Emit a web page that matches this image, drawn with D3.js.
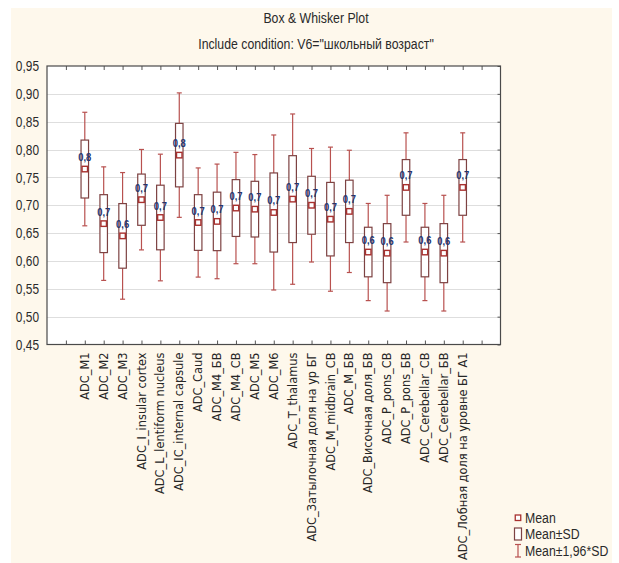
<!DOCTYPE html>
<html>
<head>
<meta charset="utf-8">
<script src="https://cdn.jsdelivr.net/npm/d3@7"></script>
<style>
  html, body { margin: 0; padding: 0; background: #ffffff; }
  svg { display: block; }
</style>
</head>
<body>
<svg id="chart" width="619" height="563"></svg>
<script>
// Variables (one box per ADC measurement)
const categories = [
  "ADC_M1", "ADC_M2", "ADC_M3", "ADC_I_insular cortex", "ADC_L_lentiform nucleus",
  "ADC_IC_internal capsule", "ADC_Caud", "ADC_M4_БВ", "ADC_M4_СВ", "ADC_M5", "ADC_M6",
  "ADC_T_thalamus", "ADC_Затылочная доля на ур БГ", "ADC_M_midbrain_СВ", "ADC_M_БВ",
  "ADC_Височная доля_БВ", "ADC_P_pons_СВ", "ADC_P_pons_БВ", "ADC_Cerebellar_СВ",
  "ADC_Cerebellar_БВ", "ADC_Лобная доля на уровне БГ А1"
];
// Mean of each variable
const means = [
  0.765, 0.667, 0.645, 0.710, 0.678,
  0.790, 0.669, 0.671, 0.695, 0.693, 0.687,
  0.711, 0.700, 0.675, 0.689,
  0.616, 0.614, 0.732, 0.616,
  0.614, 0.732
];
// Standard deviation of each variable
const sds = [
  0.052, 0.052, 0.058, 0.046, 0.058,
  0.057, 0.050, 0.0525, 0.051, 0.050, 0.071,
  0.078, 0.052, 0.066, 0.056,
  0.0445, 0.053, 0.050, 0.0445,
  0.053, 0.050
];
const yTicks = [0.45, 0.50, 0.55, 0.60, 0.65, 0.70, 0.75, 0.80, 0.85, 0.90, 0.95];
const whiskerFactor = 1.96;
const titleText = "Box & Whisker Plot";
const subtitleText = "Include condition: V6=\"школьный возраст\"";
const legendLabels = ["Mean", "Mean±SD", "Mean±1,96*SD"];

const svg = d3.select("#chart");
const W = 619, H = 563;
const plot = { left: 47, right: 500.5, top: 66, bottom: 344.5 };
const SANS = "'Liberation Sans', Arial, sans-serif";
const NARROW = 0.82; // horizontal squeeze giving a narrow face

const fmtTick = v => d3.format(".2f")(v).replace(".", ",");
const fmtLabel = v => d3.format(".1f")(v).replace(".", ",");

// Narrow text placed at (px, py)
function narrowText(parent, px, py, txt, size, anchor, color, weight) {
  return parent.append("text")
    .attr("transform", `translate(${px},${py}) scale(${NARROW},1)`)
    .attr("text-anchor", anchor)
    .attr("font-family", SANS)
    .attr("font-size", size)
    .attr("font-weight", weight || "normal")
    .attr("fill", color)
    .text(txt);
}

// Page background
svg.append("rect").attr("width", W).attr("height", H).attr("fill", "#ffffff");
svg.append("rect").attr("x", 11).attr("y", 8).attr("width", W - 18).attr("height", H - 8)
  .attr("fill", "#fef8ec");

// Scales: categories sit at 1..n, with one empty slot plus a frame margin on each side
const x = d3.scaleLinear().domain([-1, categories.length + 2]).range([plot.left, plot.right]);
const y = d3.scaleLinear().domain([0.45, 0.95]).range([plot.bottom, plot.top]);

// Plot area
svg.append("rect")
  .attr("x", plot.left).attr("y", plot.top)
  .attr("width", plot.right - plot.left).attr("height", plot.bottom - plot.top)
  .attr("fill", "#ffffff");

// Horizontal grid
svg.append("g").selectAll("line")
  .data(yTicks.slice(1, -1))
  .join("line")
  .attr("x1", plot.left).attr("x2", plot.right)
  .attr("y1", d => Math.round(y(d)) + 0.5).attr("y2", d => Math.round(y(d)) + 0.5)
  .attr("stroke", "#dedede").attr("stroke-width", 1);

// Left axis labels
const gy = svg.append("g").attr("transform", `translate(${plot.left},0)`)
  .call(d3.axisLeft(y).tickValues(yTicks).tickFormat(fmtTick).tickSize(0).tickPadding(0));
gy.select(".domain").remove();
gy.selectAll(".tick text")
  .attr("x", 0)
  .attr("transform", `translate(-8,0) scale(${NARROW},1)`)
  .attr("font-family", SANS).attr("font-size", 14.5).attr("fill", "#2a2a2a");

// Right axis: inward ticks only
const gyr = svg.append("g").attr("transform", `translate(${plot.right},0)`)
  .call(d3.axisRight(y).tickValues(yTicks).tickSize(-3).tickFormat(""));
gyr.select(".domain").remove();
gyr.selectAll("line").attr("stroke", "#555");

// Top and bottom axes: inward ticks at every slot
const slotTicks = d3.range(0, categories.length + 2);
const gtop = svg.append("g").attr("transform", `translate(0,${plot.top})`)
  .call(d3.axisTop(x).tickValues(slotTicks).tickSize(-4).tickFormat(""));
gtop.select(".domain").remove();
gtop.selectAll("line").attr("stroke", "#555");

const gbot = svg.append("g").attr("transform", `translate(0,${plot.bottom})`)
  .call(d3.axisBottom(x).tickValues(slotTicks).tickSize(-4).tickFormat(""));
gbot.select(".domain").remove();
gbot.selectAll("line").attr("stroke", "#555");

// Category labels, rotated
svg.append("g").selectAll("text")
  .data(categories)
  .join("text")
  .attr("transform", (d, i) => `translate(${x(i + 1)},${plot.bottom + 8}) rotate(-90)`)
  .attr("text-anchor", "end")
  .attr("dy", "0.36em")
  .attr("font-family", "'DejaVu Sans', Verdana, sans-serif")
  .attr("font-size", 11.4)
  .attr("fill", "#262626")
  .text(d => d);

// Frame
svg.append("rect")
  .attr("x", plot.left).attr("y", plot.top)
  .attr("width", plot.right - plot.left).attr("height", plot.bottom - plot.top)
  .attr("fill", "none").attr("stroke", "#4a4a4a").attr("stroke-width", 1.2);

// Boxes
const boxW = 7.5, capW = 5, markS = 5.5;
const whiskerColor = "#b8514f", boxColor = "#7d4242", markColor = "#a8302e";
const rows = categories.map((c, i) => ({ c, i, m: means[i], s: sds[i] }));
const gBox = svg.append("g").selectAll("g").data(rows).join("g")
  .attr("transform", d => `translate(${x(d.i + 1)},0)`);

// Whiskers: mean ± 1.96·SD
const whiskerSegs = [
  [d => y(d.m + whiskerFactor * d.s), d => y(d.m + d.s)],
  [d => y(d.m - d.s), d => y(d.m - whiskerFactor * d.s)]
];
whiskerSegs.forEach(([a, b]) => {
  gBox.append("line").attr("x1", 0).attr("x2", 0).attr("y1", a).attr("y2", b)
    .attr("stroke", whiskerColor).attr("stroke-width", 1.2);
});
[1, -1].forEach(sign => {
  gBox.append("line")
    .attr("x1", -capW / 2).attr("x2", capW / 2)
    .attr("y1", d => y(d.m + sign * whiskerFactor * d.s))
    .attr("y2", d => y(d.m + sign * whiskerFactor * d.s))
    .attr("stroke", whiskerColor).attr("stroke-width", 1.2);
});

// Box: mean ± SD
gBox.append("rect")
  .attr("x", -boxW / 2).attr("width", boxW)
  .attr("y", d => y(d.m + d.s)).attr("height", d => y(d.m - d.s) - y(d.m + d.s))
  .attr("fill", "#ffffff").attr("stroke", boxColor).attr("stroke-width", 1.2);

// Mean marker
gBox.append("rect")
  .attr("x", -markS / 2).attr("width", markS)
  .attr("y", d => y(d.m) - markS / 2).attr("height", markS)
  .attr("fill", "#ffffff").attr("stroke", markColor).attr("stroke-width", 1.4);

// Mean value labels
gBox.each(function (d) {
  narrowText(d3.select(this), 0, y(d.m) - 8, fmtLabel(d.m), 11.5, "middle", "#23356f", "bold");
});

// Titles
narrowText(svg, 316, 23, titleText, 15, "middle", "#2a2a2a");
narrowText(svg, 316, 49, subtitleText, 15, "middle", "#2a2a2a");

// Legend
const lg = svg.append("g").attr("transform", "translate(518,0)");
lg.append("rect").attr("x", -2.75).attr("y", 515).attr("width", 5.5).attr("height", 5.5)
  .attr("fill", "#ffffff").attr("stroke", markColor).attr("stroke-width", 1.3);
lg.append("rect").attr("x", -3.5).attr("y", 528).attr("width", 7).attr("height", 12)
  .attr("fill", "#ffffff").attr("stroke", boxColor).attr("stroke-width", 1.2);
lg.append("line").attr("x1", 0).attr("x2", 0).attr("y1", 544.5).attr("y2", 557)
  .attr("stroke", whiskerColor).attr("stroke-width", 1.2);
[544.5, 557].forEach(yy => {
  lg.append("line").attr("x1", -3).attr("x2", 3).attr("y1", yy).attr("y2", yy)
    .attr("stroke", whiskerColor).attr("stroke-width", 1.2);
});
legendLabels.forEach((t, i) => {
  narrowText(lg, 7, [523, 539, 556][i], t, 15, "start", "#2a2a2a");
});
</script>
</body>
</html>
